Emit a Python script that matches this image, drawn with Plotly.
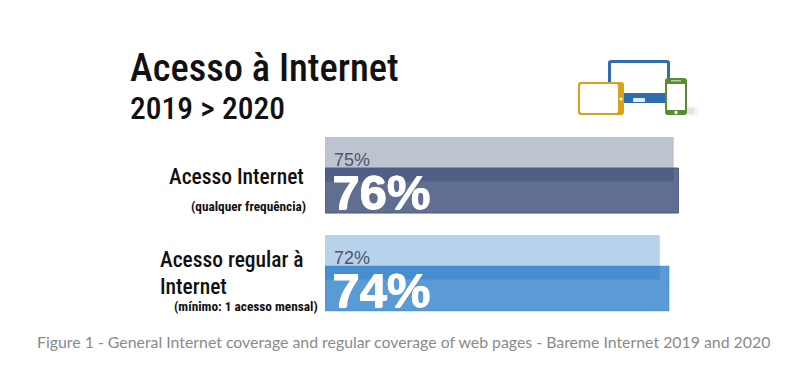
import plotly.graph_objects as go

PAGE_MARGIN = 8
W, H = 807 - PAGE_MARGIN, 374 - PAGE_MARGIN
categories = ["Acesso regular à Internet", "Acesso Internet"]
values_2019 = [72, 75]
values_2020 = [74, 76]
colors_2019 = ["#B7D2EB", "#BEC3D0"]
colors_2020 = ["rgba(21,112,195,0.70)", "rgba(40,60,106,0.74)"]
lines_2020 = ["rgba(21,112,195,0.3)", "#4A5A85"]
title_main = "Acesso à Internet"
title_sub = "2019 > 2020"
caption = "Figure 1 - General Internet coverage and regular coverage of web pages - Bareme Internet 2019 and 2020"
COND = "Roboto Condensed"


def px(x):
    return (x - PAGE_MARGIN) / W


def py(y):
    return 1 - (y - PAGE_MARGIN) / H


fig = go.Figure()
fig.add_trace(go.Bar(
    y=categories, x=values_2019, orientation="h", name="2019",
    width=0.454, offset=-0.066,
    marker=dict(color=colors_2019, line=dict(width=0)),
))
fig.add_trace(go.Bar(
    y=categories, x=values_2020, orientation="h", name="2020",
    width=0.459, offset=-0.388,
    marker=dict(color=colors_2020, line=dict(width=1, color=lines_2020)),
))


def note(text, x, y, size, family=COND, color="#111111", weight=500):
    return dict(text=text, x=px(x), y=py(y), xref="paper", yref="paper",
                xanchor="left", yanchor="middle", showarrow=False,
                font=dict(family=family, size=size, color=color, weight=weight))


annotations = [
    note(title_main, 128, 67, 38.5),
    note(title_sub, 128, 108, 31.5),
    note("Acesso Internet", 167, 176, 21.5),
    note("(qualquer frequência)", 189, 206, 13.3, weight=700),
    note("Acesso regular à", 158, 259, 21.5),
    note("Internet", 158, 286, 21.5),
    note("(mínimo: 1 acesso mensal)", 172, 306, 13.3, weight=700),
    note(caption, 35, 341, 15.85, family="Lato", color="#8A8A8A", weight=400),
]
for cat, v19, v20 in zip(categories, values_2019, values_2020):
    annotations.append(dict(text=f"{v19}%", x=1.5, y=cat, xref="x", yref="y", xanchor="left",
                            yanchor="middle", yshift=15, showarrow=False,
                            font=dict(family="Liberation Sans", size=18, color="#4F5568")))
    annotations.append(dict(text=f"<b>{v20}%</b>", x=1.0, y=cat, xref="x", yref="y", xanchor="left",
                            yanchor="middle", yshift=-17, showarrow=False,
                            font=dict(family="Liberation Sans", size=49, color="#FFFFFF",
                                      shadow="1px 0 0 #FFFFFF, 0 1px 0 #FFFFFF")))


def rrect(x0, y0, x1, y1, r, fill):
    X0, X1, Y0, Y1 = px(x0), px(x1), py(y0), py(y1)
    rx, ry = r / W, r / H
    path = (f"M{X0+rx},{Y0} L{X1-rx},{Y0} Q{X1},{Y0} {X1},{Y0-ry} L{X1},{Y1+ry} Q{X1},{Y1} {X1-rx},{Y1} "
            f"L{X0+rx},{Y1} Q{X0},{Y1} {X0},{Y1+ry} L{X0},{Y0-ry} Q{X0},{Y0} {X0+rx},{Y0} Z")
    return dict(type="path", path=path, xref="paper", yref="paper", fillcolor=fill, line=dict(width=0), layer="above")


def circle(cx, cy, r, fill):
    return dict(type="circle", xref="paper", yref="paper", x0=px(cx - r), x1=px(cx + r),
                y0=py(cy + r), y1=py(cy - r), fillcolor=fill, line=dict(width=0), layer="above")


BLUE, GOLD, GREEN = "#2F6EAD", "#D9A21B", "#5B8A33"
shapes = [
    rrect(682, 106, 699, 116, 4, "rgba(170,170,170,0.10)"),
    rrect(685, 108, 695, 114, 3, "rgba(150,150,150,0.18)"),
    rrect(608, 60, 670, 96, 3, BLUE),
    rrect(611, 63, 667, 93, 1, "#FFFFFF"),
    rrect(620, 93, 668, 103, 1, BLUE),
    rrect(633, 98, 645, 102, 1, "#E8EEF5"),
    rrect(578, 82, 624, 115, 3, GOLD),
    rrect(580, 84, 618, 113, 2, "#FFFFFF"),
    circle(621, 99, 1.5, "#FFFFFF"),
    rrect(665, 78, 687, 115, 3, GREEN),
    rrect(667, 84, 685, 110, 0, "#FFFFFF"),
    rrect(671, 80, 681, 81.5, 0, "#B9CDA8"),
    circle(676, 112.5, 1.7, "#FFFFFF"),
]

fig.update_layout(
    width=W, height=H, autosize=False, barmode="overlay",
    margin=dict(l=0, r=0, t=0, b=0), showlegend=False,
    paper_bgcolor="#FFFFFF", plot_bgcolor="#FFFFFF",
    xaxis=dict(range=[0, 100], domain=[px(325), px(790)], visible=False),
    yaxis=dict(type="category", categoryorder="array", categoryarray=categories,
               range=[-0.5, 1.5], domain=[py(322), py(126)], visible=False),
    annotations=annotations, shapes=shapes,
)
fig.write_html("out.html")
